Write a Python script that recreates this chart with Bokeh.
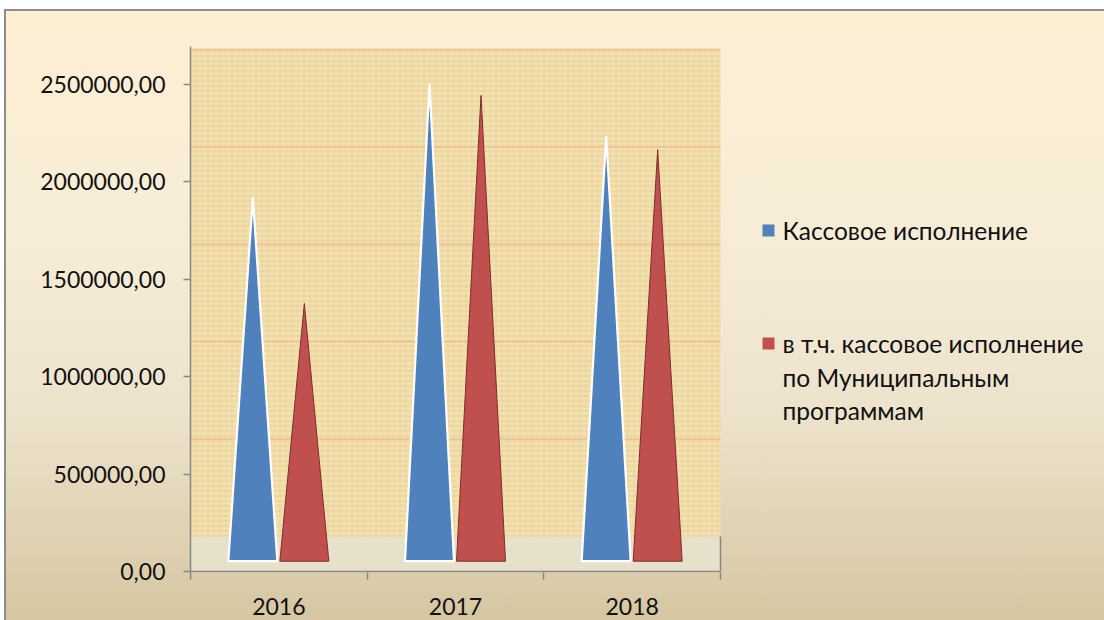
from bokeh.plotting import figure
from bokeh.models import Range1d, FixedTicker
from bokeh.core.properties import value
from bokeh.embed import file_html
from bokeh.resources import INLINE

# ---------------- data ----------------
years = ["2016", "2017", "2018"]
kassovoe_ispolnenie = [1868000, 2452000, 2182000]
po_mun_programmam = [1323000, 2391000, 2112000]
legend_1 = ["Кассовое исполнение"]
legend_2 = ["в т.ч. кассовое исполнение", "по Муниципальным", "программам"]
y_ticks = [0, 500000, 1000000, 1500000, 2000000, 2500000]
y_tick_labels = ["0,00", "500000,00", "1000000,00", "1500000,00", "2000000,00", "2500000,00"]

# ---------------- style / layout ----------------
BLUE = "#4F81BD"
RED = "#C0504D"
AXIS = "#878787"
TXT = "#111111"
FONT = "Lato"
FSIZE = "23px"
LEG_FSIZE = "24.5px"

FIG_W, FIG_H = 1104, 620
FL, FT = 190, 46            # frame left / top (px)
Y0 = 571                    # pixel row of value 0
FB = 572                    # frame bottom (px)
CAT_R = 720                 # right end of category axis (px)
PX_PER_TICK = 97.4
UPP = (y_ticks[1] - y_ticks[0]) / PX_PER_TICK   # data units per px
WALL_OFF = 35 * UPP                              # 3D depth of back wall
CONE_OFF = 10.3 * UPP                            # 3D depth of cone base
N = len(years)
XPP = N / (CAT_R - FL)


def dx(px):
    return (px - FL) * XPP


def dy(py):
    return (Y0 - py) * UPP


p = figure(width=FIG_W, height=FIG_H, output_backend="svg", toolbar_location=None,
           x_range=Range1d(0, dx(FIG_W)), y_range=Range1d(dy(FB), dy(FT)),
           min_border_left=FL, min_border_right=0,
           min_border_top=FT, min_border_bottom=FIG_H - FB)
p.background_fill_alpha = 0
p.border_fill_alpha = 0
p.outline_line_color = None
p.styles = {
    "background": (
        "linear-gradient(#8C8C8C, #8C8C8C) 4px 9px / 2px 100% no-repeat, "
        "linear-gradient(#8C8C8C, #8C8C8C) 4px 9px / 100% 2px no-repeat, "
        "linear-gradient(180deg, #FDEFD4 0%, #F6ECD6 40%, #EDE3CC 65%, #D5C5A0 100%) "
        "4px 9px / 100% 100% no-repeat, #FFFFFF"
    ),
}
p.xgrid.visible = False
p.ygrid.visible = False

# back wall (papyrus-like)
wall_top = y_ticks[-1] + WALL_OFF
p.quad(left=0, right=N, bottom=WALL_OFF, top=wall_top, fill_color="#EFDAA4",
       line_color=None)
p.quad(left=0, right=N, bottom=WALL_OFF, top=wall_top, fill_alpha=0, line_color=None,
       hatch_pattern="vertical_line", hatch_color="#C9A55E", hatch_alpha=0.18,
       hatch_scale=6, hatch_weight=1)
p.quad(left=0, right=N, bottom=WALL_OFF, top=wall_top, fill_alpha=0, line_color=None,
       hatch_pattern="horizontal_line", hatch_color="#FFF6DC", hatch_alpha=0.35,
       hatch_scale=5, hatch_weight=1.5)
# wall gridlines
p.segment(x0=0, x1=N, y0=[t + WALL_OFF for t in y_ticks[1:]],
          y1=[t + WALL_OFF for t in y_ticks[1:]], line_color="#F2B48C",
          line_alpha=0.8, line_width=1.5)
# floor
p.quad(left=0, right=N, bottom=0, top=WALL_OFF, fill_color="#E7E0CA", line_color=None)
p.segment(x0=N, x1=N, y0=0, y1=WALL_OFF, line_color=AXIS, line_width=1.5)
# category axis line
p.segment(x0=0, x1=N, y0=0, y1=0, line_color=AXIS, line_width=1.5)

# cones
half = 24.5 * XPP
offs = [-26 * XPP, 25.5 * XPP]
series = [(kassovoe_ispolnenie, BLUE, "white", 2.2),
          (po_mun_programmam, RED, "#7E2E2B", 1)]
for s, (vals, fc, lc, lw) in enumerate(series):
    xs, ys = [], []
    for i, v in enumerate(vals):
        c = i + 0.5 + offs[s]
        xs.append([c - half, c, c + half])
        ys.append([CONE_OFF, CONE_OFF + v, CONE_OFF])
    p.patches(xs, ys, fill_color=fc, line_color=lc, line_width=lw)

# y axis
p.yaxis.ticker = FixedTicker(ticks=y_ticks, minor_ticks=[])
p.yaxis.major_label_overrides = {t: lab for t, lab in zip(y_ticks, y_tick_labels)}
p.yaxis.axis_line_color = AXIS
p.yaxis.axis_line_width = 1.5
p.yaxis.major_tick_line_color = AXIS
p.yaxis.major_tick_line_width = 1.5
p.yaxis.major_tick_out = 7
p.yaxis.major_tick_in = 0
p.yaxis.major_label_standoff = 18
p.yaxis.major_label_text_font = FONT
p.yaxis.major_label_text_font_size = FSIZE
p.yaxis.major_label_text_color = TXT

# x axis (labels at category centres, ticks at boundaries)
centres = [i + 0.5 for i in range(N)]
p.xaxis.ticker = FixedTicker(ticks=centres, minor_ticks=list(range(N + 1)))
p.xaxis.major_label_overrides = {c: y for c, y in zip(centres, years)}
p.xaxis.axis_line_color = None
p.xaxis.major_tick_line_color = None
p.xaxis.major_tick_out = 0
p.xaxis.major_tick_in = 0
p.xaxis.minor_tick_line_color = AXIS
p.xaxis.minor_tick_line_width = 1.5
p.xaxis.minor_tick_out = 7
p.xaxis.minor_tick_in = 0
p.xaxis.major_label_standoff = 18
p.xaxis.major_label_text_font = FONT
p.xaxis.major_label_text_font_size = FSIZE
p.xaxis.major_label_text_color = TXT

# legend (inside the extended frame, right of the plot area)
sq = 12
leg_x = 762
leg_rows = [230, 343]
p.quad(left=[dx(leg_x)] * 2, right=[dx(leg_x + sq)] * 2,
       top=[dy(r - sq / 2) for r in leg_rows], bottom=[dy(r + sq / 2) for r in leg_rows],
       fill_color=[BLUE, RED], line_color=None)
leg_text = legend_1 + legend_2
leg_y = [230, 343, 376.5, 410]
p.text(x=[dx(782)] * len(leg_text), y=[dy(v) for v in leg_y], text=leg_text,
       text_font=value(FONT), text_font_size=value(LEG_FSIZE), text_baseline="middle",
       text_align="left", text_color=TXT)

open("out.html", "w").write(file_html(p, INLINE))
